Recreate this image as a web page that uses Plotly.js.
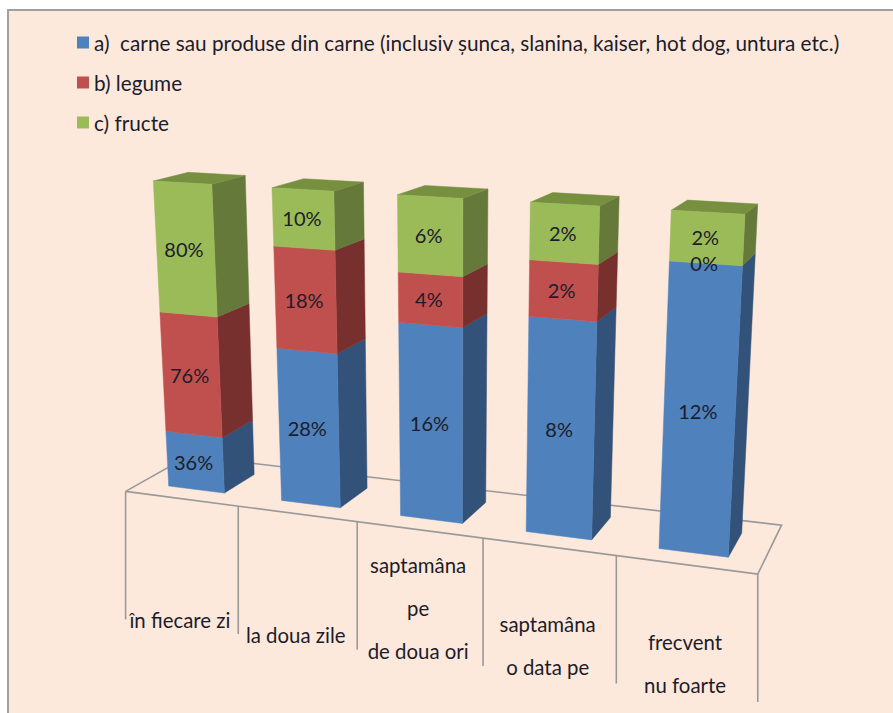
<!DOCTYPE html>
<html>
<head>
<meta charset="utf-8">
<script src="https://cdn.plot.ly/plotly-3.0.1.min.js"></script>
<style>html,body{margin:0;padding:0;background:#fff}#chart{width:893px;height:713px}</style>
</head>
<body>
<div id="chart"></div>
<script>
// ---- data ----
const categoryLines = [["în fiecare zi"], ["la doua zile"], ["saptamâna", "pe", "de doua ori"], ["saptamâna", "o data pe"], ["frecvent", "nu foarte"]];
const meat   = [36, 28, 16, 8, 12];
const veg    = [76, 18, 4, 2, 0];
const fruit  = [80, 10, 6, 2, 2];
const seriesNames = [
  "a)  carne sau produse din carne (inclusiv șunca, slanina, kaiser, hot dog, untura etc.)",
  "b) legume",
  "c) fructe"
];
const seriesValues = [meat, veg, fruit];

// ---- styles ----
const frontColors = ["#4F81BD", "#C0504D", "#9BBB59"];
const sideColors  = ["#325279", "#78302E", "#64793A"];
const topColors   = ["#3F6797", "#9A403D", "#769040"];
const gridColor = "#999999";
const bg = "#FDE9DC";
const textColor = "#1C1C2A";
const font = "Lato, Carlito, sans-serif";

// ---- oblique 3D view: screen corners of the bars' box (front plane, back plane) ----
const frontQuad = [[168.7,486],[728.3,557.3],[745,214.3],[153.3,181]];
const backQuad  = [[199.7,468],[741.7,533.3],[757.7,204],[188.3,172.3]];
function homography(q){
  const [[x0,y0],[x1,y1],[x2,y2],[x3,y3]] = q;
  const dx1=x1-x2, dx2=x3-x2, sx=x0-x1+x2-x3, dy1=y1-y2, dy2=y3-y2, sy=y0-y1+y2-y3;
  const den=dx1*dy2-dx2*dy1;
  const g=(sx*dy2-dx2*sy)/den, h=(dx1*sy-sx*dy1)/den;
  const a=x1-x0+g*x1, b=x3-x0+h*x3, d=y1-y0+g*y1, e=y3-y0+h*y3;
  return (s,t)=>{const w=g*s+h*t+1; return [(a*s+b*t+x0)/w,(d*s+e*t+y0)/w];};
}
const Hf=homography(frontQuad), Hb=homography(backQuad);
const n=categoryLines.length, margin=0.25;
function project(u,depth,v){
  const s=(u-margin)/(n-2*margin);
  const f=Hf(s,v), b=Hb(s,v);
  return [f[0]+(b[0]-f[0])*depth, f[1]+(b[1]-f[1])*depth];
}
function polys(list){
  const x=[],y=[];
  list.forEach(p=>{p.forEach(q=>{x.push(q[0]);y.push(q[1]);});x.push(p[0][0]);y.push(p[0][1]);x.push(null);y.push(null);});
  return {x,y};
}
const traces=[];

// floor and the category dividers
const floorDepthFront=-0.5, floorDepthBack=1.5, dividerDrop=128;
const floor=polys([[project(0,floorDepthFront,0),project(n,floorDepthFront,0),project(n,floorDepthBack,0),project(0,floorDepthBack,0)]]);
traces.push({type:"scatter",mode:"lines",x:floor.x,y:floor.y,line:{color:gridColor,width:1.6},hoverinfo:"skip",showlegend:false});
const divX=[],divY=[];
for(let i=0;i<=n;i++){const p=project(i,floorDepthFront,0);divX.push(p[0],p[0],null);divY.push(p[1],p[1]+dividerDrop,null);}
traces.push({type:"scatter",mode:"lines",x:divX,y:divY,line:{color:gridColor,width:1.6},hoverinfo:"skip",showlegend:false});

// stacked, 100%-normalised bars
const totals=categoryLines.map((_,i)=>seriesValues.reduce((a,s)=>a+s[i],0));
const labX=[],labY=[],labT=[];
const labelShiftX=-1.5, labelShiftY=2.5;
seriesValues.forEach((vals,si)=>{
  const fronts=[],sides=[],tops=[];
  vals.forEach((val,i)=>{
    const below=seriesValues.slice(0,si).reduce((a,s)=>a+s[i],0);
    const v0=below/totals[i], v1=(below+val)/totals[i];
    const l=i+margin, r=i+1-margin;
    if(val>0){
      fronts.push([project(l,0,v0),project(r,0,v0),project(r,0,v1),project(l,0,v1)]);
      sides.push([project(r,0,v0),project(r,1,v0),project(r,1,v1),project(r,0,v1)]);
    }
    if(si===seriesValues.length-1) tops.push([project(l,0,1),project(r,0,1),project(r,1,1),project(l,1,1)]);
    const c=project(i+0.5,0,(v0+v1)/2);
    labX.push(c[0]+labelShiftX);labY.push(c[1]+labelShiftY);labT.push(val+"%");
  });
  const sp=polys(sides), fp=polys(fronts);
  traces.push({type:"scatter",mode:"lines",x:sp.x,y:sp.y,fill:"toself",fillcolor:sideColors[si],line:{color:sideColors[si],width:0.5},hoverinfo:"skip",showlegend:false});
  if(tops.length){const tp=polys(tops);traces.push({type:"scatter",mode:"lines",x:tp.x,y:tp.y,fill:"toself",fillcolor:topColors[si],line:{color:topColors[si],width:0.5},hoverinfo:"skip",showlegend:false});}
  traces.push({type:"scatter",mode:"lines",x:fp.x,y:fp.y,fill:"toself",fillcolor:frontColors[si],line:{color:frontColors[si],width:0.5},hoverinfo:"skip",showlegend:false});
});

// percent labels
traces.push({type:"scatter",mode:"text",x:labX,y:labY,text:labT,textposition:"middle center",textfont:{family:font,size:20,color:textColor},hoverinfo:"skip",showlegend:false});

// category labels, one point per printed line, last line lowest
const lineStep=43;
const catX=[],catY=[],catT=[];
categoryLines.forEach((lines,i)=>{
  const a=project(i,floorDepthFront,0),b=project(i+1,floorDepthFront,0);
  lines.forEach((t,k)=>{catX.push((a[0]+b[0])/2-2);catY.push(a[1]+dividerDrop+4-(lines.length-1-k)*lineStep);catT.push(t);});
});
traces.push({type:"scatter",mode:"text",x:catX,y:catY,text:catT,textposition:"middle center",textfont:{family:font,size:20.4,color:textColor},hoverinfo:"skip",showlegend:false});

// legend entries
seriesNames.forEach((name,si)=>{
  traces.push({type:"scatter",mode:"markers",x:[null],y:[null],name:name,legendgroup:"g"+si,marker:{symbol:"square",size:12,color:frontColors[si]},hoverinfo:"skip"});
});

const layout={
  width:893,height:713,
  margin:{l:9,r:0,t:11,b:0,pad:0},
  paper_bgcolor:"#fff",plot_bgcolor:bg,
  xaxis:{range:[9,893],side:"top",showline:true,linecolor:"#A0A0A0",linewidth:2,showgrid:false,zeroline:false,showticklabels:false,ticks:"",fixedrange:true},
  yaxis:{range:[713,11],side:"left",showline:true,linecolor:"#A0A0A0",linewidth:2,showgrid:false,zeroline:false,showticklabels:false,ticks:"",fixedrange:true},
  legend:{x:0.0509,y:0.9836,xanchor:"left",yanchor:"top",bgcolor:"rgba(0,0,0,0)",font:{family:font,size:20.75,color:textColor},tracegroupgap:10,itemclick:false,itemdoubleclick:false},
  showlegend:true
};
Plotly.newPlot("chart",traces,layout,{displayModeBar:false,staticPlot:true}).then(gd=>{
  // the reference sets its swatches closer to the legend text
  gd.querySelectorAll(".legend .legendpoints").forEach(g=>g.setAttribute("transform","translate(9,0)"));
});
</script>
</body>
</html>
